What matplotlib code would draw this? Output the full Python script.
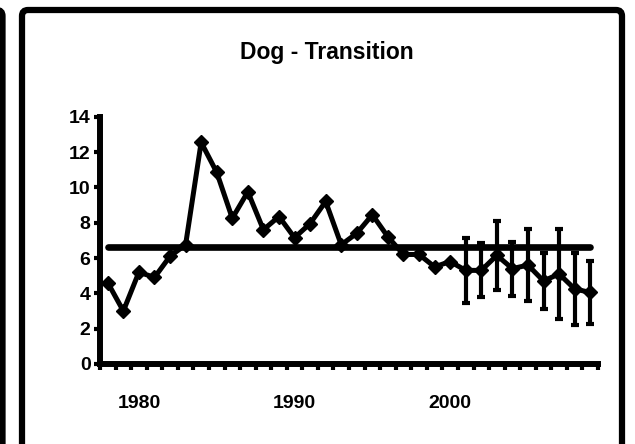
import matplotlib
matplotlib.use("Agg")
import matplotlib.pyplot as plt
from matplotlib import font_manager
from matplotlib.patches import FancyBboxPatch
from matplotlib.transforms import IdentityTransform

plt.rcParams['font.family'] = ['Liberation Sans', 'DejaVu Sans']
plt.rcParams['font.weight'] = 'bold'

# the original uses a narrow bold face for the title
names = {f.name for f in font_manager.fontManager.ttflist}
if 'Liberation Sans Narrow' in names:
    title_font, title_size = ['Liberation Sans Narrow', 'Liberation Sans'], 19
else:
    title_font, title_size = ['Liberation Sans', 'DejaVu Sans'], 16.5

# data
years = list(range(1978, 2010))
values = [4.6, 3.0, 5.2, 4.9, 6.1, 6.75, 12.55, 10.85, 8.25, 9.75, 7.6, 8.35,
          7.15, 7.95, 9.2, 6.75, 7.4, 8.45, 7.2, 6.2, 6.2, 5.5, 5.8,
          5.3, 5.3, 6.15, 5.4, 5.6, 4.7, 5.1, 4.25, 4.05]
err_years = list(range(2001, 2010))
err_values = [5.3, 5.3, 6.15, 5.4, 5.6, 4.7, 5.1, 4.25, 4.05]
err_sizes = [1.82, 1.53, 1.96, 1.53, 2.02, 1.61, 2.53, 2.02, 1.8]
mean_level = 6.63
x_labels = [1980, 1990, 2000]
y_ticks = [0, 2, 4, 6, 8, 10, 12, 14]

W, H = 635, 444
fig = plt.figure(figsize=(W / 100, H / 100), dpi=100)

# frames (pixel coords, origin bottom-left)
frame = FancyBboxPatch((22, -20), 600, H - 10 + 20, boxstyle="round,pad=0,rounding_size=6",
                       transform=IdentityTransform(), fill=False, lw=4.5, ec='black')
fig.patches.append(frame)
side = FancyBboxPatch((-30, -20), 32.5, H - 10 + 20, boxstyle="round,pad=0,rounding_size=6",
                      transform=IdentityTransform(), fill=False, lw=4.5, ec='black')
fig.patches.append(side)

ax = fig.add_axes([100 / W, 1 - 364 / H, 498 / W, (364 - 116.7) / H])

ax.hlines(mean_level, years[0], years[-1], colors='black', lw=4.8, capstyle='round', zorder=2)
ax.errorbar(err_years, err_values, yerr=err_sizes, fmt='none', ecolor='black',
            elinewidth=3, capsize=2.8, capthick=3, zorder=3)
ax.plot(years, values, color='black', lw=3.6, marker='D', ms=7.5, mfc='black', mec='black', zorder=4)

ax.set_xlim(1977.5, 2009.5)
ax.set_ylim(0, 14)

for s in ['top', 'right']:
    ax.spines[s].set_visible(False)
for s in ['left', 'bottom']:
    ax.spines[s].set_linewidth(4.3)
    ax.spines[s].set_capstyle('projecting')

ax.set_yticks(y_ticks)
ax.set_yticklabels([str(v) for v in y_ticks], fontsize=14, fontweight='bold')
ax.tick_params(axis='y', length=4.3, width=3, pad=2.5, direction='out')

ax.set_xticks(x_labels)
ax.set_xticklabels([str(v) for v in x_labels], fontsize=14, fontweight='bold')
ax.set_xticks([y + 0.5 for y in range(1977, 2010)], minor=True)
ax.tick_params(axis='x', which='major', length=0, pad=22)
ax.tick_params(axis='x', which='minor', length=4.3, width=3, direction='out')

fig.text(327 / W, 1 - 53 / H, "Dog - Transition", ha='center', va='center',
         fontsize=title_size, fontweight='bold', family=title_font)

fig.savefig("out.png", dpi=100)
